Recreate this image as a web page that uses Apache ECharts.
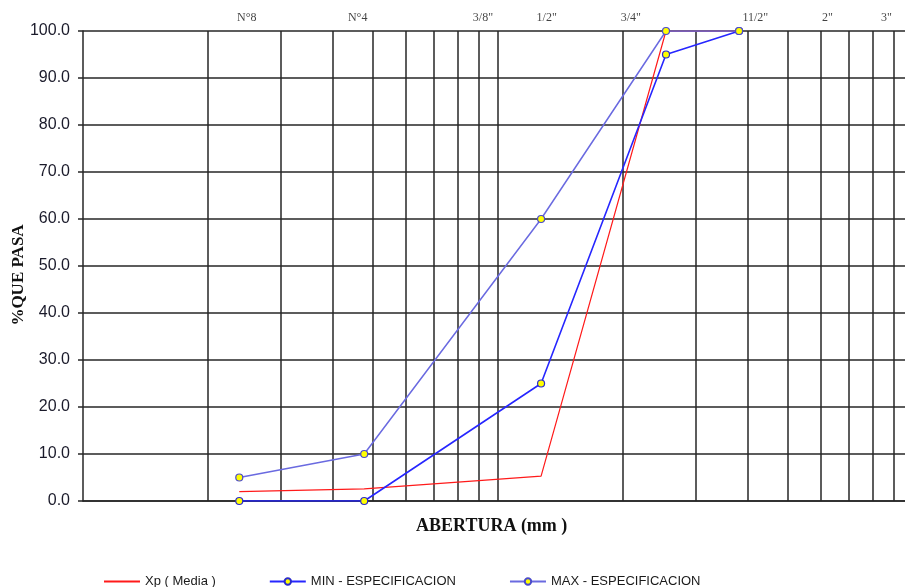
<!DOCTYPE html>
<html>
<head>
<meta charset="utf-8">
<script src="https://cdn.jsdelivr.net/npm/echarts@6/dist/echarts.min.js"></script>
<style>
  html, body { margin: 0; padding: 0; background: #ffffff; }
  #chart { width: 905px; height: 587px; }
</style>
</head>
<body>
<div id="chart"></div>
<script>
// Sieve openings (mm) for each sample point
const aberturas = [2.38, 4.76, 12.7, 25.4, 38.1];

// Percent passing
const xpMedia = [2.0, 2.6, 5.3, 100, 100];
const minEspec = [0, 0, 25, 95, 100];
const maxEspec = [5, 10, 60, 100, 100];

// Sieve names written above the plot, with the opening (mm) where each is placed
const tamices = ['N°8', 'N°4', '3/8"', '1/2"', '3/4"', '11/2"', '2"', '3"'];
const tamizPos = [2.48, 4.59, 9.2, 13.1, 20.9, 41.7, 62.2, 86.3];

// Vertical log grid lines (mm)
const gridX = [2, 3, 4, 5, 6, 7, 8, 9, 10, 20, 30, 40, 50, 60, 70, 80, 90];

const pairs = (ys) => aberturas.map((x, i) => [x, ys[i]]);

const gridColor = '#262626';
const chart = echarts.init(document.getElementById('chart'), null, { renderer: 'canvas' });

chart.setOption({
  animation: false,
  backgroundColor: '#ffffff',
  grid: {
    left: 83, top: 31, width: 830, height: 470,
    containLabel: false,
    outerBoundsMode: 'none'
  },
  xAxis: {
    type: 'log',
    logBase: 10,
    min: 1,
    max: 100,
    axisLine: { show: true, lineStyle: { color: gridColor, width: 1.5 } },
    axisTick: { show: false },
    axisLabel: { show: false },
    splitLine: { show: false },
    minorTick: { show: false }
  },
  yAxis: {
    type: 'value',
    min: 0,
    max: 100,
    interval: 10,
    axisLine: { show: true, lineStyle: { color: gridColor, width: 1.5 } },
    axisTick: { show: true, length: 5, lineStyle: { color: gridColor, width: 1.5 } },
    axisLabel: {
      margin: 13,
      fontFamily: 'Liberation Sans',
      fontSize: 16,
      color: '#1a1a2a',
      formatter: (v) => v.toFixed(1)
    },
    splitLine: { show: true, lineStyle: { color: gridColor, width: 1.5 } }
  },
  legend: {
    left: 103,
    top: 575,
    padding: 0,
    itemWidth: 36,
    itemHeight: 8,
    itemGap: 53,
    textStyle: { fontFamily: 'Liberation Sans', fontSize: 13, color: '#1a1a1a' },
    data: [
      { name: 'Xp ( Media )', itemStyle: { opacity: 0 } },
      'MIN - ESPECIFICACION',
      'MAX - ESPECIFICACION'
    ]
  },
  graphic: [
    {
      type: 'text',
      left: 416,
      top: 517,
      style: {
        text: 'ABERTURA (mm )',
        fontFamily: 'Liberation Serif',
        fontWeight: 'bold',
        fontSize: 18,
        fill: '#111'
      }
    },
    {
      type: 'text',
      x: 19,
      y: 275,
      rotation: Math.PI / 2,
      style: {
        text: '%QUE PASA',
        fontFamily: 'Liberation Serif',
        fontWeight: 'bold',
        fontSize: 17,
        fill: '#111',
        align: 'center',
        verticalAlign: 'middle'
      }
    }
  ],
  series: [
    {
      // sieve captions along the top edge, plus the vertical grid
      name: 'tamices',
      type: 'scatter',
      symbolSize: 0,
      silent: true,
      data: tamizPos.map((x, i) => ({ value: [x, 100], name: tamices[i] })),
      label: {
        show: true,
        position: 'top',
        distance: 7,
        formatter: (p) => p.name,
        fontFamily: 'Liberation Serif',
        fontSize: 12,
        color: '#111'
      },
      markLine: {
        silent: true,
        symbol: ['none', 'none'],
        label: { show: false },
        lineStyle: { type: 'solid', color: gridColor, width: 1.5 },
        emphasis: { disabled: true },
        data: gridX.map((x) => ({ xAxis: x }))
      },
      z: 1
    },
    {
      name: 'Xp ( Media )',
      type: 'line',
      data: pairs(xpMedia),
      symbol: 'none',
      lineStyle: { color: '#ff1a1a', width: 1.2 },
      itemStyle: { color: '#ff1a1a' },
      z: 10
    },
    {
      name: 'MIN - ESPECIFICACION',
      type: 'line',
      data: pairs(minEspec),
      symbol: 'circle',
      symbolSize: 7,
      lineStyle: { color: '#2626ff', width: 1.6 },
      itemStyle: { color: '#ffff00', borderColor: '#2a2acc', borderWidth: 1.2 },
      z: 11
    },
    {
      name: 'MAX - ESPECIFICACION',
      type: 'line',
      data: pairs(maxEspec),
      symbol: 'circle',
      symbolSize: 7,
      lineStyle: { color: '#6a6ae0', width: 1.5 },
      itemStyle: { color: '#ffff00', borderColor: '#4a4acc', borderWidth: 1.2 },
      z: 12
    }
  ]
});
</script>
</body>
</html>
